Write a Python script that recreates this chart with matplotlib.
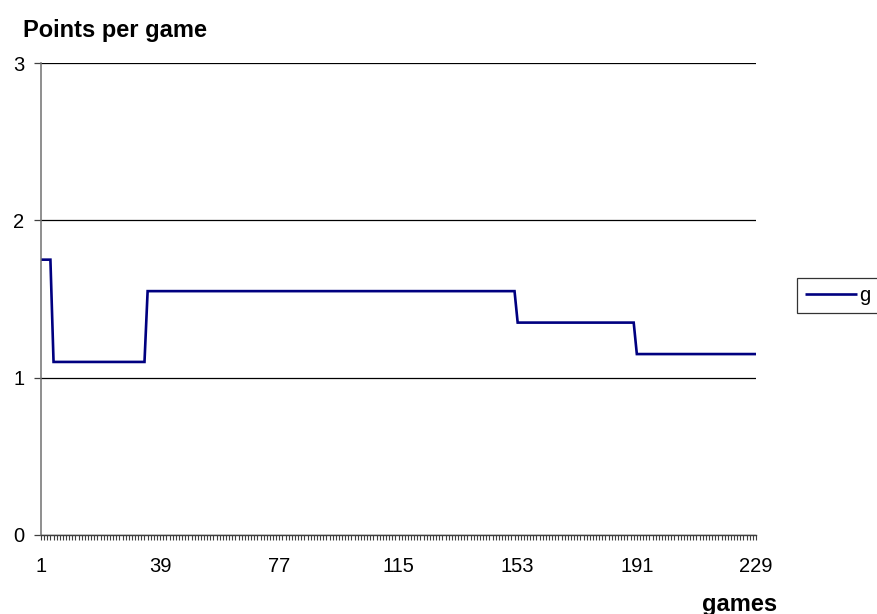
import numpy as np
import matplotlib
matplotlib.use("Agg")
import matplotlib.pyplot as plt
from matplotlib.ticker import FixedLocator, NullFormatter

plt.rcParams['font.family'] = ['Liberation Sans', 'DejaVu Sans']

# Data: points per game, piecewise-constant segments
segment_values = [1.75, 1.10, 1.55, 1.35, 1.15]
segment_lengths = [4, 30, 118, 38, 39]
games = np.arange(1, sum(segment_lengths) + 1)
points = np.repeat(segment_values, segment_lengths)
x_tick_labels = [1, 39, 77, 115, 153, 191, 229]
y_ticks = [0, 1, 2, 3]
series_name = "g"

W, H = 877, 614
fig = plt.figure(figsize=(W / 100, H / 100), dpi=100)
ax = fig.add_axes([41 / W, 1 - 535 / H, (756 - 41) / W, (535 - 63) / H])

ax.plot(games, points, color='#000080', lw=1.9, label=series_name,
        solid_joinstyle='miter', solid_capstyle='butt', clip_on=False)

ax.set_xlim(1, 229)
ax.set_ylim(0, 3)
ax.set_yticks(y_ticks)
ax.set_yticklabels([str(v) for v in y_ticks])
ax.grid(axis='y', color='black', lw=0.9)
ax.set_axisbelow(True)

ax.xaxis.set_major_locator(FixedLocator(x_tick_labels))
ax.set_xticklabels([str(v) for v in x_tick_labels])
ax.xaxis.set_minor_locator(FixedLocator([g for g in games if g not in x_tick_labels]))
ax.xaxis.set_minor_formatter(NullFormatter())

for s in ['top', 'right']:
    ax.spines[s].set_visible(False)
ax.spines['left'].set_color('#707070')
ax.spines['left'].set_linewidth(1.1)
ax.spines['bottom'].set_color('#404040')
ax.spines['bottom'].set_linewidth(1.0)

ax.tick_params(axis='x', which='both', direction='out', length=3.6, width=0.8,
               color='#404040', labelsize=14.5, pad=12)
ax.tick_params(axis='y', direction='out', length=5, width=0.9, color='#404040',
               labelsize=14.5, pad=7)

fig.text(23 / W, 1 - 30 / H, "Points per game", fontsize=17, fontweight='bold',
         ha='left', va='center')
fig.text(740 / W, 1 - 604 / H, "games", fontsize=17, fontweight='bold',
         ha='center', va='center')

leg = fig.legend(loc='upper left', bbox_to_anchor=(797 / W, 1 - 278 / H),
                 fontsize=14.5, frameon=True, fancybox=False, shadow=False,
                 handlelength=2.6, handletextpad=0.1, borderpad=0.4,
                 borderaxespad=0)
leg.get_frame().set_edgecolor('black')
leg.get_frame().set_linewidth(0.9)

fig.savefig("out.png", dpi=100)
